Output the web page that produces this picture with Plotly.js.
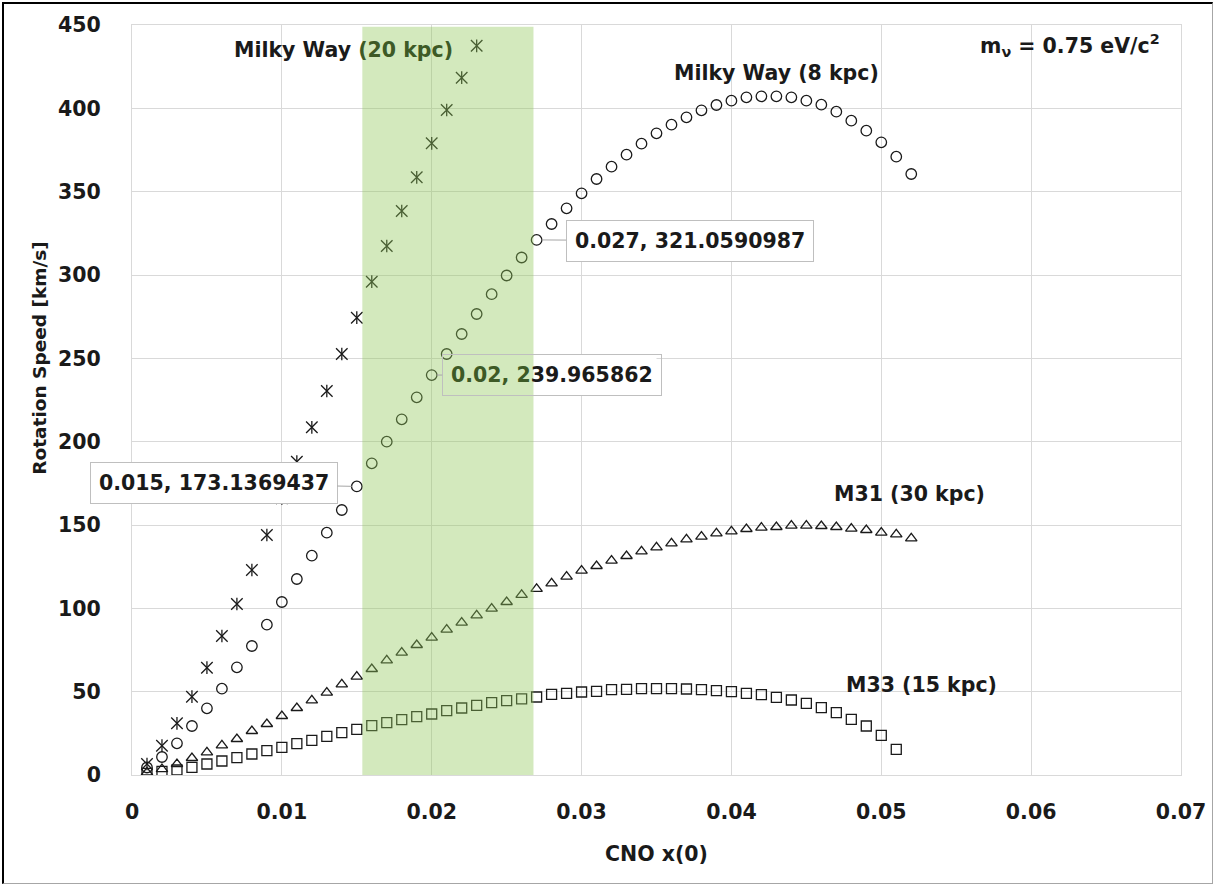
<!DOCTYPE html>
<html>
<head>
<meta charset="utf-8">
<script src="https://cdn.plot.ly/plotly-3.0.1.min.js"></script>
<style>
  html, body { margin: 0; padding: 0; background: #fff; }
  #wrap { position: relative; width: 1215px; height: 886px; }
  #chart { width: 1215px; height: 886px; }
  #frame { position: absolute; left: 2px; top: 2px; width: 1211px; height: 882px; box-sizing: border-box;
           border-top: 2px solid #000; border-left: 2px solid #000; border-right: 1px solid #a6a6a6; border-bottom: 1px solid #a6a6a6;
           pointer-events: none; }
</style>
</head>
<body>
<div id="wrap"><div id="chart"></div><div id="frame"></div></div>
<script>
// ---- data ----
const cno52 = [0.001,0.002,0.003,0.004,0.005,0.006,0.007,0.008,0.009,0.010,
               0.011,0.012,0.013,0.014,0.015,0.016,0.017,0.018,0.019,0.020,
               0.021,0.022,0.023,0.024,0.025,0.026,0.027,0.028,0.029,0.030,
               0.031,0.032,0.033,0.034,0.035,0.036,0.037,0.038,0.039,0.040,
               0.041,0.042,0.043,0.044,0.045,0.046,0.047,0.048,0.049,0.050,
               0.051,0.052];
const cno51 = cno52.slice(0, 51);
const cno23 = cno52.slice(0, 23);

const milkyWay8 = [4.5,10.8,19,29.4,40,51.8,64.6,77.4,90.2,103.8,
                   117.6,131.6,145.4,159,173.1369437,187,200,213.4,226.6,239.965862,
                   252.6,264.6,276.6,288.5,299.7,310.5,321.0590987,330.6,340,349,
                   357.6,365,372.2,378.8,385,390.2,394.6,398.8,402,404.6,
                   406.6,407.2,407.2,406.6,404.6,402.2,398,392.6,386.6,379.6,
                   371,360.6];
const milkyWay20 = [6.6,17.6,31,47,64.4,83.4,102.6,123,144,166,
                    188,208.6,230.4,252.6,274.4,296,317.4,338.4,358.6,379,
                    399,418.4,437.5];
const m31 = [1.5,3.5,6.6,10.2,13.6,17.8,21.6,26.4,30.6,35.4,
             40.2,44.8,49.4,54.4,59,63.6,68.8,73.4,78,82.4,
             87.2,91.4,95.8,99.8,103.8,108.1,111.7,115,119,122.6,
             125.4,128.6,131.4,134.2,136.6,139,141.4,143,145,146.2,
             147.6,148.4,148.8,149.6,149.6,149.4,148.8,147.8,147,145.4,
             144.4,142];
const m33 = [1,2.2,3,4.6,6.6,8.4,10.4,12.6,14.6,16.6,
             18.8,20.8,23.2,25.4,27.4,29.6,31.4,33.2,35,36.6,
             38.6,40.2,41.8,43.4,44.6,45.7,46.8,48.4,49,49.8,
             50.2,51.2,51.4,51.8,51.8,51.8,51.6,51.2,50.6,50,
             49,48.2,46.6,45,43,40.4,37.4,33.4,29.4,23.8,15.4];

const labelledX = [0.015, 0.02, 0.027];
const xTicks = [0,0.01,0.02,0.03,0.04,0.05,0.06,0.07];
const yTicks = [0,50,100,150,200,250,300,350,400,450];

// ---- styling ----
const FONT = 'DejaVu Sans, Liberation Sans, sans-serif';
const INK = '#1a1a1a';
const FS = 20.5;
const TINT = '#3d5a26';

function mk(symbol, size) {
  return {symbol: symbol, size: size, color: INK, line: {color: INK, width: 1.3}};
}

const traces = [
  {x: cno52, y: milkyWay8, type: 'scatter', mode: 'markers', name: 'Milky Way (8 kpc)', marker: mk('circle-open', 10.5)},
  {x: cno23, y: milkyWay20, type: 'scatter', mode: 'markers', name: 'Milky Way (20 kpc)', marker: mk('x-thin-open', 11.5)},
  {x: cno23, y: milkyWay20, type: 'scatter', mode: 'markers', name: 'Milky Way (20 kpc) bar', marker: mk('line-ns-open', 9)},
  {x: cno52, y: m31, type: 'scatter', mode: 'markers', name: 'M31 (30 kpc)', marker: mk('triangle-up-open', 10)},
  {x: cno51, y: m33, type: 'scatter', mode: 'markers', name: 'M33 (15 kpc)', marker: mk('square-open', 10)}
];

// data-label annotations built from the series
const labelOffsets = [[-143, -3], [120, 0], [153, 1]];
const annotations = [];
labelledX.forEach((xv, k) => {
  const i = cno52.indexOf(xv);
  const yv = milkyWay8[i];
  let txt = String(xv) + ', ' + String(yv);
  const inRect = (k === 1);
  if (inRect) txt = "<span style='color:" + TINT + "'>" + txt.slice(0, 7) + '</span>' + txt.slice(7);
  annotations.push({
    x: xv, y: yv, xref: 'x', yref: 'y', text: txt,
    showarrow: true, arrowhead: 0, arrowwidth: 1, arrowcolor: '#a6a6a6',
    ax: labelOffsets[k][0], ay: labelOffsets[k][1], standoff: 5,
    bgcolor: inRect ? 'rgba(0,0,0,0)' : '#ffffff', bordercolor: '#bfbfbf', borderwidth: 1, borderpad: 8,
    font: {family: FONT, size: FS, color: INK, weight: 'bold'}
  });
});

const textLabels = [
  {x: 0.01409, y: 435, text: "Milky Way <span style='color:" + TINT + "'>(20 kpc)</span>"},
  {x: 0.04304, y: 421, text: 'Milky Way (8 kpc)'},
  {x: 0.0519, y: 168.6, text: 'M31 (30 kpc)'},
  {x: 0.0527, y: 54, text: 'M33 (15 kpc)'},
  {x: 0.0626, y: 438, text: 'm<sub>ν</sub> = 0.75 eV/c<sup>2</sup>'}
];
textLabels.forEach(t => annotations.push({
  x: t.x, y: t.y, xref: 'x', yref: 'y', text: t.text, showarrow: false,
  font: {family: FONT, size: FS, color: INK, weight: 'bold'}
}));

// y-axis title (placed as in the reference, above the axis centre)
annotations.push({
  xref: 'paper', yref: 'paper', x: -0.088, y: 0.556, xanchor: 'center', yanchor: 'middle',
  text: 'Rotation Speed [km/s]', textangle: -90, showarrow: false,
  font: {family: FONT, size: 18.5, color: INK, weight: 'bold'}
});

const layout = {
  width: 1215, height: 886,
  margin: {l: 132, r: 34.4, t: 25, b: 111},
  paper_bgcolor: '#ffffff', plot_bgcolor: '#ffffff',
  showlegend: false,
  font: {family: FONT, color: INK},
  xaxis: {
    range: [0, 0.07], tickvals: xTicks, ticktext: xTicks.map(String),
    showgrid: true, gridcolor: '#d9d9d9', gridwidth: 1,
    showline: true, linecolor: '#d9d9d9', linewidth: 1, mirror: true,
    zeroline: false, ticks: '', ticklabelstandoff: 18,
    tickfont: {family: FONT, size: FS, color: INK, weight: 'bold'},
    title: {text: 'CNO x(0)', standoff: 24, font: {family: FONT, size: FS, color: INK, weight: 'bold'}}
  },
  yaxis: {
    range: [0, 450], tickvals: yTicks, ticktext: yTicks.map(String),
    showgrid: true, gridcolor: '#d9d9d9', gridwidth: 1,
    showline: true, linecolor: '#d9d9d9', linewidth: 1, mirror: true,
    zeroline: false, ticks: '', ticklabelstandoff: 26,
    tickfont: {family: FONT, size: FS, color: INK, weight: 'bold'}
  },
  shapes: [
    {type: 'rect', xref: 'x', yref: 'y', x0: 0.0208, x1: 0.0350, y0: 228, y1: 252,
     fillcolor: '#ffffff', line: {width: 0}, layer: 'between'},
    {type: 'rect', xref: 'x', yref: 'y', x0: 0.01537, x1: 0.02679, y0: -3, y1: 449,
     fillcolor: 'rgba(146,200,90,0.4)', line: {width: 0}, layer: 'above'}
  ],
  annotations: annotations
};

Plotly.newPlot('chart', traces, layout, {displayModeBar: false, staticPlot: true});
</script>
</body>
</html>
